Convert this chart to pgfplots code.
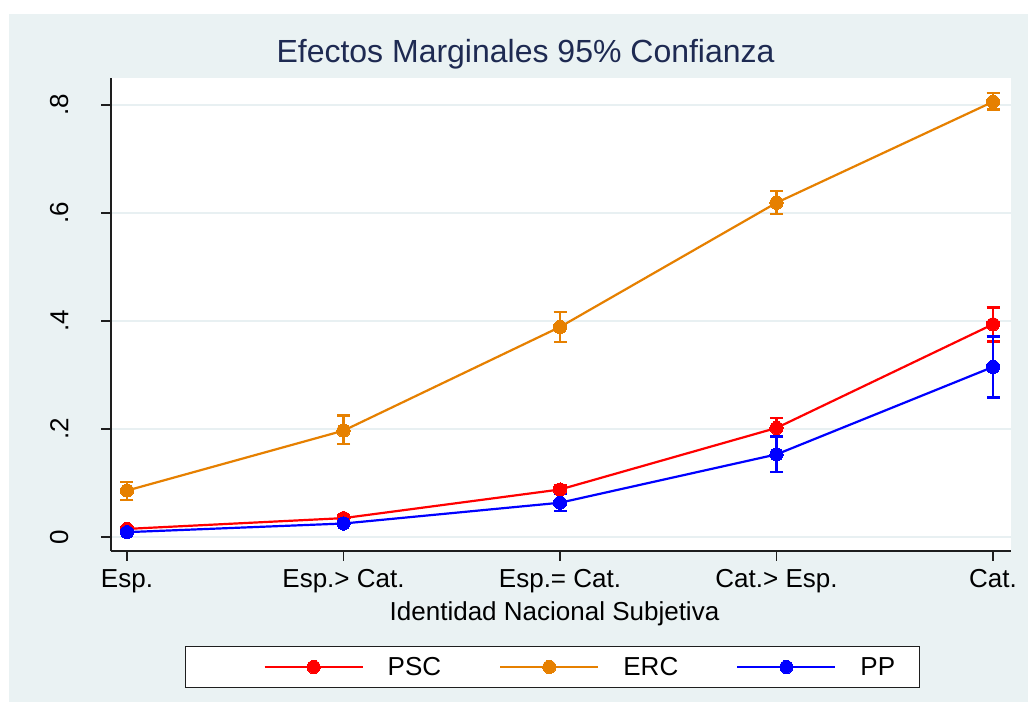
\documentclass[border=0pt]{standalone}
\usepackage{pgfplots}
\pgfplotsset{compat=1.18}
\usepackage{fontspec}
\setmainfont{Liberation Sans}
\definecolor{bgc}{RGB}{234,242,243}
\definecolor{gridc}{RGB}{232,240,242}
\definecolor{titc}{RGB}{30,42,82}
\definecolor{pscc}{RGB}{255,0,0}
\definecolor{ercc}{RGB}{230,128,0}
\definecolor{ppc}{RGB}{0,0,255}
\definecolor{axc}{RGB}{30,30,30}
\newcommand{\lblfont}{\fontsize{26}{31}\selectfont}
\begin{document}
\begin{tikzpicture}
\fill[white] (-111pt,-151pt) rectangle (917pt,551pt);
\fill[bgc] (-102pt,-151pt) rectangle (917pt,537pt);
\begin{axis}[
  at={(0pt,0pt)}, anchor=south west,
  scale only axis, width=900pt, height=473pt,
  xmin=-0.0739, xmax=4.083, ymin=-0.0259, ymax=0.85,
  axis background/.style={fill=white},
  axis x line*=bottom, axis y line*=left,
  axis line style={-, draw=axc, line width=1.3pt},
  tick align=outside, major tick length=9.5pt,
  tick style={draw=axc, line width=1.2pt},
  xtick={0,1,2,3,4},
  xticklabels={Esp.,Esp.> Cat.,Esp.= Cat.,Cat.> Esp.,Cat.},
  ytick={0,0.2,0.4,0.6,0.8},
  yticklabels={0,.2,.4,.6,.8},
  ymajorgrids, grid style={draw=gridc, line width=2pt},
  xticklabel shift=9pt,
  yticklabel shift=33pt,
  xticklabel style={font=\lblfont, anchor=north, inner sep=0pt},
  yticklabel style={font=\lblfont, rotate=90, anchor=south, inner sep=0pt},
  title={Efectos Marginales 95\% Confianza},
  title style={font=\fontsize{32}{38}\selectfont, text=titc, at={(axis description cs:0.4606,1.0211)}, anchor=base, inner sep=0pt},
  xlabel={Identidad Nacional Subjetiva},
  xlabel style={font=\lblfont, at={(axis description cs:0.4928,-0.1459)}, anchor=base, inner sep=0pt},
  legend columns=3,
  legend style={at={(axis description cs:0.4904,-0.2452)}, anchor=center,
    draw=axc, line width=1.3pt, fill=white, inner xsep=22pt, inner ysep=9pt,
    font=\lblfont,
    /tikz/every odd column/.append style={column sep=22pt},
    /tikz/every even column/.append style={column sep=0pt}},
  legend image code/.code={%
    \path (-56pt,0pt);
    \draw[mark repeat=2, mark phase=2, #1] plot coordinates {(0pt,0pt) (49pt,0pt) (98pt,0pt)};
  },
  every axis plot/.append style={line width=2.2pt, mark=*, mark size=6.6pt,
    mark options={solid, line width=0pt},
    error bars/y dir=both, error bars/y explicit,
    error bars/error bar style={line width=2.2pt},
    error bars/error mark options={rotate=90, mark size=6.5pt, line width=2.4pt}},
]
\addplot[color=pscc] coordinates {
  (0,0.015) +- (0,0.004)
  (1,0.035) +- (0,0.005)
  (2,0.088) +- (0,0.008)
  (3,0.202) += (0,0.018) -= (0,0.016)
  (4,0.394) += (0,0.031) -= (0,0.032)
};
\addlegendentry{PSC}
\addplot[color=ercc] coordinates {
  (0,0.086) += (0,0.016) -= (0,0.017)
  (1,0.197) += (0,0.028) -= (0,0.025)
  (2,0.389) += (0,0.028) -= (0,0.028)
  (3,0.619) += (0,0.022) -= (0,0.021)
  (4,0.806) += (0,0.016) -= (0,0.014)
};
\addlegendentry{ERC}
\addplot[color=ppc] coordinates {
  (0,0.009) +- (0,0.003)
  (1,0.025) +- (0,0.005)
  (2,0.0635) += (0,0.0165) -= (0,0.0155)
  (3,0.153) += (0,0.033) -= (0,0.033)
  (4,0.315) += (0,0.056) -= (0,0.057)
};
\addlegendentry{PP}
\end{axis}
\end{tikzpicture}
\end{document}
